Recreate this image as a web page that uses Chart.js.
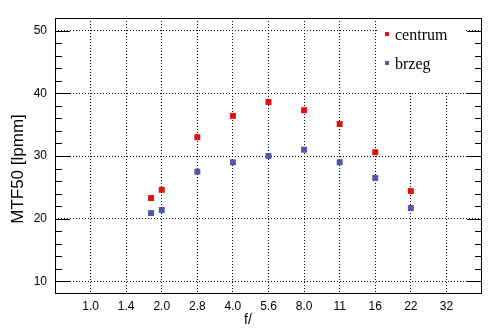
<!DOCTYPE html>
<html>
<head>
<meta charset="utf-8">
<script src="https://cdn.jsdelivr.net/npm/chart.js@4"></script>
<style>
html, body { margin: 0; padding: 0; background: #fff; }
</style>
</head>
<body>
<canvas id="mtf-chart" width="494" height="331"></canvas>
<script>
// podziałka przysłony (kolejne działki co 1/2 EV)
const fStops = ['1.0', '1.4', '2.0', '2.8', '4.0', '5.6', '8.0', '11', '16', '22', '32'];
// pozycje pomiarów na tej podziałce: f/1.8, 2.0, 2.8, 4.0, 5.6, 8.0, 11, 16, 22
const stopPos = [1.7, 2, 3, 4, 5, 6, 7, 8, 9];
const centrum = [23.3, 24.6, 33.0, 36.4, 38.6, 37.3, 35.1, 30.6, 24.4];
const brzeg = [20.9, 21.4, 27.5, 29.0, 30.0, 31.0, 29.0, 26.5, 21.7];
const yTicks = [10, 20, 30, 40, 50];

const RED = 'rgb(222, 16, 20)';
const BLUE = 'rgb(84, 84, 168)';

function toPoints(values) {
    return values.map((v, i) => ({ x: stopPos[i], y: v }));
}

// ramka, ząbki, legenda i opisy osi
const frame = {
    id: 'frame',
    beforeDatasetsDraw(chart) {
        const ctx = chart.ctx;
        ctx.save();
        ctx.fillStyle = '#fff';
        ctx.fillRect(377, 19, 89, 72);
        ctx.restore();
    },
    afterDraw(chart) {
        const ctx = chart.ctx;
        const a = chart.chartArea;
        const y = chart.scales.y;
        ctx.save();
        ctx.strokeStyle = '#000';
        ctx.lineWidth = 1;
        ctx.strokeRect(Math.round(a.left) + 0.5, Math.round(a.top) + 0.5,
            Math.round(a.right - a.left) - 1, Math.round(a.bottom - a.top) - 1);

        ctx.beginPath();
        for (let v = 10; v <= 50; v += 2) {
            const py = Math.round(y.getPixelForValue(v)) + 0.5;
            const len = v % 10 === 0 ? 15 : 7;
            ctx.moveTo(a.left, py);
            ctx.lineTo(a.left + len, py);
            ctx.moveTo(a.right, py);
            ctx.lineTo(a.right - len, py);
        }
        ctx.stroke();

        // legenda
        const items = chart.data.datasets;
        items.forEach((ds, i) => {
            const my = 34 + i * 29;
            ctx.fillStyle = ds.backgroundColor;
            ctx.fillRect(385, my - 2, 4, 4);
            ctx.fillStyle = '#000';
            ctx.font = '16px "Liberation Serif"';
            ctx.textAlign = 'left';
            ctx.textBaseline = 'alphabetic';
            ctx.fillText(ds.label, 395, my + 6);
        });

        // opisy osi
        ctx.fillStyle = '#000';
        ctx.font = '17px "Liberation Sans"';
        ctx.textAlign = 'center';
        ctx.textBaseline = 'middle';
        ctx.save();
        ctx.translate(18, 169);
        ctx.rotate(-Math.PI / 2);
        ctx.fillText('MTF50 [lpmm]', 0, 0);
        ctx.restore();
        ctx.font = '14px "Liberation Sans"';
        ctx.fillText('f/', 248, 320);
        ctx.restore();
    }
};

Chart.defaults.font.family = '"Liberation Sans", Arial, sans-serif';
Chart.defaults.color = '#000';

const chart = new Chart(document.getElementById('mtf-chart'), {
    type: 'scatter',
    data: {
        datasets: [{
            label: 'centrum',
            data: toPoints(centrum),
            backgroundColor: RED,
            borderColor: RED,
            pointStyle: 'rect',
            pointRadius: 4.2,
            pointBorderWidth: 0
        }, {
            label: 'brzeg',
            data: toPoints(brzeg),
            backgroundColor: BLUE,
            borderColor: BLUE,
            pointStyle: 'rect',
            pointRadius: 4.2,
            pointBorderWidth: 0
        }]
    },
    options: {
        responsive: false,
        animation: false,
        layout: { padding: { top: 18, right: 12, left: 0, bottom: 0 } },
        plugins: {
            legend: { display: false },
            tooltip: { enabled: false }
        },
        scales: {
            x: {
                type: 'linear',
                min: -1,
                max: 11,
                afterBuildTicks: (scale) => {
                    scale.ticks = fStops.map((_, i) => ({ value: i }));
                },
                afterFit: (scale) => { scale.height = 37; },
                ticks: {
                    callback: (v) => fStops[v],
                    font: { size: 12 },
                    padding: 5,
                    maxRotation: 0,
                    autoSkip: false
                },
                grid: { color: '#000', lineWidth: 1, drawTicks: false },
                border: { display: false, dash: [1, 2] }
            },
            y: {
                min: 8,
                max: 52,
                afterBuildTicks: (scale) => {
                    scale.ticks = yTicks.map(v => ({ value: v }));
                },
                afterFit: (scale) => { scale.width = 55; },
                ticks: {
                    font: { size: 12 },
                    padding: 8
                },
                grid: { color: '#000', lineWidth: 1, drawTicks: false },
                border: { display: false, dash: [1, 2] }
            }
        }
    },
    plugins: [frame]
});
</script>
</body>
</html>
